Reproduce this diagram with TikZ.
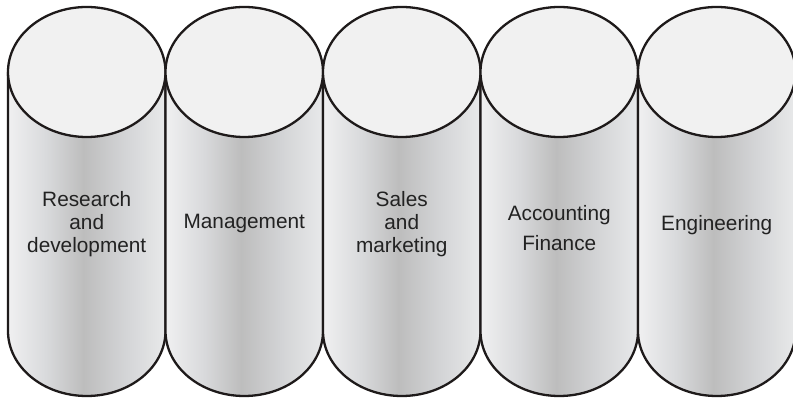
\documentclass[tikz,border=0pt]{standalone}
\usepackage{fontspec}
\setmainfont{Liberation Sans}
\definecolor{cA}{HTML}{F0F0F1}
\definecolor{cB}{HTML}{D9DADC}
\definecolor{cC}{HTML}{BDBDBD}
\definecolor{cD}{HTML}{D3D4D6}
\definecolor{cE}{HTML}{E8E9EA}
\definecolor{topfill}{HTML}{F1F1F1}
\definecolor{outline}{HTML}{1E1A1A}
\definecolor{txt}{HTML}{222222}
\pgfdeclarehorizontalshading{cylsh}{100bp}{color(0bp)=(cA); color(25bp)=(cA); color(37bp)=(cB); color(49bp)=(cC); color(62bp)=(cD); color(75bp)=(cE); color(100bp)=(cE)}
\tikzset{
  cylbody/.style={shading=cylsh},
  cylline/.style={draw=outline, line width=2.3pt},
  cyltop/.style={draw=outline, line width=2.3pt, fill=topfill},
  label/.style={text=txt, align=center, font=\fontsize{20.8}{23}\selectfont, inner sep=0pt},
}
\begin{document}
\begin{tikzpicture}[x=1pt,y=1pt]
\useasboundingbox (0,0) rectangle (793,398);
\fill[white] (0,0) rectangle (793,398);
\def\rx{78.75}
\def\ry{65}
\foreach \i in {0,...,4}{
  \pgfmathsetmacro{\xl}{8+157.5*\i}
  \pgfmathsetmacro{\xr}{\xl+157.5}
  \pgfmathsetmacro{\cx}{\xl+78.75}
  \shade[cylbody] (\xl,326) -- (\xl,67) arc[start angle=180,end angle=360,x radius=\rx,y radius=\ry] -- (\xr,326) -- cycle;
  \draw[cylline] (\xl,326) -- (\xl,67) arc[start angle=180,end angle=360,x radius=\rx,y radius=\ry] -- (\xr,326);
}
\foreach \i in {0,...,4}{
  \pgfmathsetmacro{\cx}{86.75+157.5*\i}
  \draw[cyltop] (\cx,326) ellipse [x radius=\rx, y radius=\ry];
}
\node[label] (rd) at (86.75,174) {Research\\and\\development};
\node[label] (mg) at (244.25,174) {Management};
\node[label] (sm) at (401.75,174) {Sales\\and\\marketing};
\node[label, font=\fontsize{20.8}{30.5}\selectfont] (af) at (559.25,170) {Accounting\\Finance};
\node[label] (en) at (716.75,173) {Engineering};
\end{tikzpicture}
\end{document}
